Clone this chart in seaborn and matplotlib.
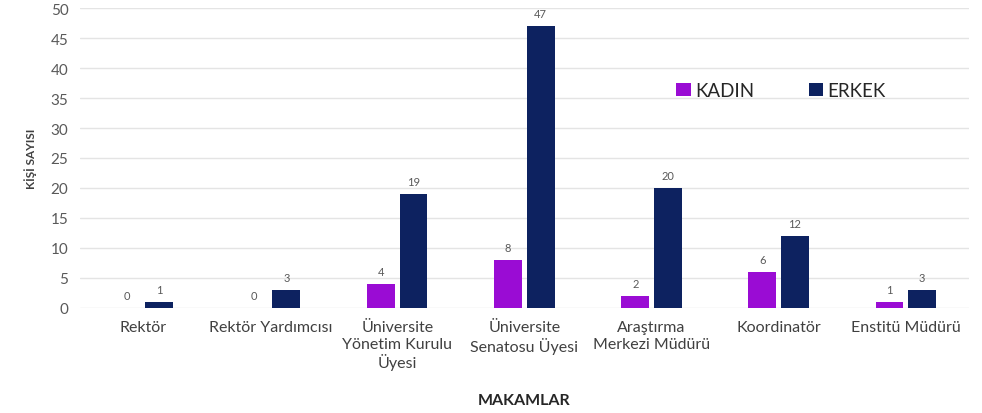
import matplotlib
matplotlib.use('Agg')
import matplotlib.pyplot as plt
import seaborn as sns
import pandas as pd

CATEGORIES = ['Rektör', 'Rektör Yardımcısı', 'Üniversite\nYönetim Kurulu\nÜyesi',
              'Üniversite\nSenatosu Üyesi', 'Araştırma\nMerkezi Müdürü',
              'Koordinatör', 'Enstitü Müdürü']
KADIN = [0, 0, 4, 8, 2, 6, 1]
ERKEK = [1, 3, 19, 47, 20, 12, 3]
SERIES = ['KADIN', 'ERKEK']
COLORS = ['#9a0cd4', '#0d2260']

df = pd.DataFrame({
    'makam': CATEGORIES * 2,
    'cinsiyet': ['KADIN'] * len(CATEGORIES) + ['ERKEK'] * len(CATEGORIES),
    'sayi': KADIN + ERKEK,
})

sns.set_theme(style='white')
plt.rcParams['font.family'] = ['Lato', 'DejaVu Sans']

fig = plt.figure(figsize=(9.82, 4.14), dpi=100)
ax = fig.add_axes([0.081, 0.254, 0.906, 0.724])

sns.barplot(data=df, x='makam', y='sayi', hue='cinsiyet', hue_order=SERIES,
            palette=COLORS, width=0.51, gap=0.14, saturation=1, linewidth=0,
            ax=ax, zorder=3, legend=True)

for container in ax.containers:
    ax.bar_label(container, fmt='%g', padding=5, fontsize=8, color='#595959')

ax.set_ylim(0, 50)
ax.set_xlim(-0.5, 6.5)
ax.set_yticks(range(0, 51, 5))
ax.yaxis.grid(True, color='#e4e4e4', linewidth=1, zorder=0)
for s in ['top', 'right', 'left', 'bottom']:
    ax.spines[s].set_visible(False)
ax.tick_params(axis='both', length=0, colors='#595959')
ax.tick_params(axis='y', labelsize=11, pad=8)
ax.tick_params(axis='x', labelsize=11.5, pad=9)
for lbl in ax.get_xticklabels():
    lbl.set_color('#404040')

ax.set_ylabel('KİŞİ SAYISI', fontsize=8.5, fontweight='bold', color='#404040', labelpad=10)
ax.set_xlabel('MAKAMLAR', fontsize=11.5, fontweight='bold', color='#262626', labelpad=16)

ax.legend(loc='upper left', bbox_to_anchor=(0.652, 0.81), ncol=2, frameon=False,
          fontsize=13.5, columnspacing=2.9, handlelength=0.75, handleheight=0.75,
          handletextpad=0.25, labelcolor='#262626')

fig.savefig('out.png', dpi=100, facecolor='white')
